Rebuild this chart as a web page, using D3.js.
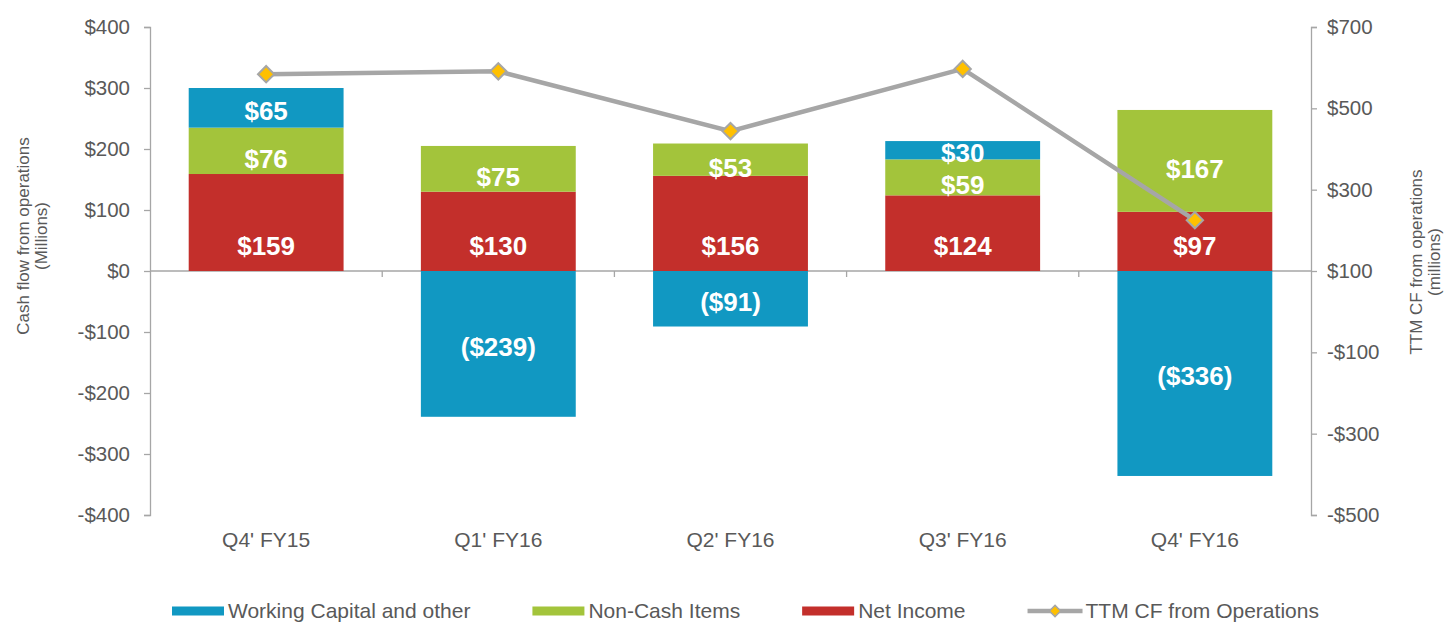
<!DOCTYPE html>
<html>
<head>
<meta charset="utf-8">
<script src="https://cdn.jsdelivr.net/npm/d3@7"></script>
<style>
  body { margin: 0; background: #fff; }
  svg text { font-family: "Liberation Sans", Arial, sans-serif; }
</style>
</head>
<body>
<div id="chart"></div>
<script>
// datos
const quarters = ["Q4' FY15", "Q1' FY16", "Q2' FY16", "Q3' FY16", "Q4' FY16"];
const netIncome = [159, 130, 156, 124, 97];
const nonCash = [76, 75, 53, 59, 167];
const workingCapital = [65, -239, -91, 30, -336];
const ttmCF = [584, 591, 444, 597, 225];

const leftTicks = [-400, -300, -200, -100, 0, 100, 200, 300, 400];
const rightTicks = [-500, -300, -100, 100, 300, 500, 700];

const seriesNames = ["Working Capital and other", "Non-Cash Items", "Net Income", "TTM CF from Operations"];

const colors = { wc: "#1198c2", nc: "#a3c43b", ni: "#c32f2b", line: "#a6a6a6", marker: "#ffc000" };
const textGray = "#595959";
const axisGray = "#a6a6a6";

const W = 1444, H = 623;
const plot = { left: 150, right: 1311, top: 27, bottom: 515 };

const svg = d3.select("#chart")
    .append("svg")
    .attr("width", W)
    .attr("height", H);

const x = d3.scaleBand()
    .domain(quarters)
    .range([plot.left, plot.right])
    .paddingInner(0.333)
    .paddingOuter(0.1667);

const yL = d3.scaleLinear().domain([-400, 400]).range([plot.bottom, plot.top]);
const yR = d3.scaleLinear().domain([-500, 700]).range([plot.bottom, plot.top]);

const money = v => v < 0 ? `-$${Math.abs(v)}` : `$${v}`;

// ejes
const leftAxis = svg.append("g")
    .attr("transform", `translate(${plot.left},0)`)
    .call(d3.axisLeft(yL).tickValues(leftTicks).tickFormat(money).tickSize(6).tickPadding(14));

const rightAxis = svg.append("g")
    .attr("transform", `translate(${plot.right},0)`)
    .call(d3.axisRight(yR).tickValues(rightTicks).tickFormat(money).tickSize(6).tickPadding(10));

[leftAxis, rightAxis].forEach(g => {
    g.select(".domain").attr("stroke", axisGray).attr("stroke-width", 1.3);
    g.selectAll(".tick line").attr("stroke", axisGray).attr("stroke-width", 1.3);
    g.selectAll(".tick text")
        .attr("fill", textGray)
        .style("font-size", "20.5px");
});

// linea del cero con marcas de categoria
svg.append("line")
    .attr("x1", plot.left).attr("x2", plot.right)
    .attr("y1", yL(0)).attr("y2", yL(0))
    .attr("stroke", axisGray).attr("stroke-width", 1.5);

const step = x.step();
svg.selectAll(".cat-tick")
    .data(quarters.slice(1))
    .join("line")
    .attr("class", "cat-tick")
    .attr("x1", d => x(d) - (step - x.bandwidth()) / 2)
    .attr("x2", d => x(d) - (step - x.bandwidth()) / 2)
    .attr("y1", yL(0))
    .attr("y2", yL(0) + 6)
    .attr("stroke", axisGray).attr("stroke-width", 1.3);

svg.selectAll(".cat-label")
    .data(quarters)
    .join("text")
    .attr("class", "cat-label")
    .attr("x", d => x(d) + x.bandwidth() / 2)
    .attr("y", 547)
    .attr("text-anchor", "middle")
    .attr("fill", textGray)
    .style("font-size", "21px")
    .text(d => d);

// titulos de ejes
const leftTitle = svg.append("text")
    .attr("transform", `translate(29,236) rotate(-90)`)
    .attr("text-anchor", "middle")
    .attr("fill", textGray)
    .style("font-size", "17px");
leftTitle.append("tspan").attr("x", 0).attr("y", 0).text("Cash flow from operations");
leftTitle.append("tspan").attr("x", 0).attr("y", 18).text("(Millions)");

const rightTitle = svg.append("text")
    .attr("transform", `translate(1422,262) rotate(-90)`)
    .attr("text-anchor", "middle")
    .attr("fill", textGray)
    .style("font-size", "17px");
rightTitle.append("tspan").attr("x", 0).attr("y", 0).text("TTM CF from operations");
rightTitle.append("tspan").attr("x", 0).attr("y", 18).text("(millions)");

// barras apiladas
const table = quarters.map((q, i) => ({ q, ni: netIncome[i], nc: nonCash[i], wc: workingCapital[i] }));
const stacked = d3.stack()
    .keys(["ni", "nc", "wc"])
    .offset(d3.stackOffsetDiverging)(table);

const layers = svg.selectAll(".layer")
    .data(stacked)
    .join("g")
    .attr("class", "layer")
    .attr("fill", d => colors[d.key]);

layers.selectAll("rect")
    .data(d => d)
    .join("rect")
    .attr("x", d => x(d.data.q))
    .attr("width", x.bandwidth())
    .attr("y", d => yL(d[1]))
    .attr("height", d => yL(d[0]) - yL(d[1]));

// Net Income va cerca de la base, los otros al centro del segmento
const labelY = d => {
    if (d.key === "ni") return yL(d.s[0]) - 25 + 9;
    const mid = (yL(d.s[0]) + yL(d.s[1])) / 2;
    return mid + 12 + (d.key === "nc" ? 5 : 0);
};

layers.selectAll("text")
    .data(d => d.map(s => ({ s, key: d.key })))
    .join("text")
    .attr("x", d => x(d.s.data.q) + x.bandwidth() / 2)
    .attr("y", labelY)
    .attr("text-anchor", "middle")
    .attr("fill", "#fff")
    .style("font-size", "26px")
    .style("font-weight", "bold")
    .text(d => {
        const v = d.s.data[d.key];
        return v < 0 ? `($${Math.abs(v)})` : `$${v}`;
    });

// linea TTM
const line = d3.line()
    .x((d, i) => x(quarters[i]) + x.bandwidth() / 2)
    .y(d => yR(d));

svg.append("path")
    .datum(ttmCF)
    .attr("d", line)
    .attr("fill", "none")
    .attr("stroke", colors.line)
    .attr("stroke-width", 4.5);

const diamond = d3.symbol().type(d3.symbolDiamond2).size(170);

svg.selectAll(".marker")
    .data(ttmCF)
    .join("path")
    .attr("class", "marker")
    .attr("d", diamond)
    .attr("transform", (d, i) => `translate(${x(quarters[i]) + x.bandwidth() / 2},${yR(d)})`)
    .attr("fill", colors.marker)
    .attr("stroke", colors.line)
    .attr("stroke-width", 2);

// leyenda
const legendKeys = ["wc", "nc", "ni", "line"];
const legend = svg.append("g");
let lx = 172;
const ly = 611;
legendKeys.forEach((k, i) => {
    const item = legend.append("g").attr("transform", `translate(${lx},0)`);
    if (k === "line") {
        item.append("line")
            .attr("x1", 0).attr("x2", 55)
            .attr("y1", ly).attr("y2", ly)
            .attr("stroke", colors.line).attr("stroke-width", 4.5);
        item.append("path")
            .attr("d", d3.symbol().type(d3.symbolDiamond2).size(80))
            .attr("transform", `translate(27.5,${ly})`)
            .attr("fill", colors.marker)
            .attr("stroke", colors.line)
            .attr("stroke-width", 1.5);
    } else {
        item.append("rect")
            .attr("x", 0).attr("y", ly - 4.5)
            .attr("width", 52).attr("height", 9)
            .attr("fill", colors[k]);
    }
    const t = item.append("text")
        .attr("x", k === "line" ? 58 : 56)
        .attr("y", ly + 7)
        .attr("fill", textGray)
        .style("font-size", "21px")
        .text(seriesNames[i]);
    lx += (k === "line" ? 58 : 56) + t.node().getComputedTextLength() + 62;
});
</script>
</body>
</html>
